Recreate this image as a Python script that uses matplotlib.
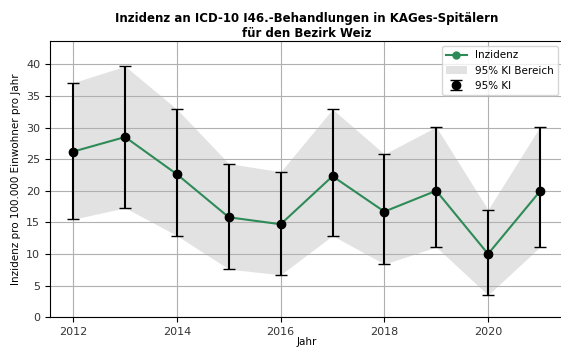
import matplotlib
matplotlib.use('Agg')
from matplotlib import pyplot as plt
import numpy as np

# incidence per 100.000 inhabitants, with 95% confidence limits
years = [2012, 2013, 2014, 2015, 2016, 2017, 2018, 2019, 2020, 2021]
inzidenz = [26.2, 28.5, 22.6, 15.8, 14.7, 22.3, 16.7, 20.0, 10.0, 19.9]
ki_unten = [15.5, 17.3, 12.9, 7.6, 6.7, 12.9, 8.4, 11.1, 3.5, 11.1]
ki_oben = [37.1, 39.7, 32.9, 24.3, 23.0, 32.9, 25.8, 30.1, 17.0, 30.1]

inz = np.array(inzidenz)
yerr = [inz - np.array(ki_unten), np.array(ki_oben) - inz]

fig = plt.figure(figsize=(5.61, 3.47), dpi=100)
ax = fig.add_axes([0.089, 0.086, 0.915, 0.796])

ax.plot(years, inzidenz, 'o-', color='#2e8b57', markersize=5, linewidth=1.5,
        label='Inzidenz')
ax.fill_between(years, ki_unten, ki_oben, color='#d3d3d3', alpha=0.65,
                linewidth=0, label='95% KI Bereich')
ax.errorbar(years, inzidenz, yerr=yerr, fmt='o', color='black', ecolor='black',
            elinewidth=1.5, capsize=4, markersize=6, label='95% KI')

ax.set_title('Inzidenz an ICD-10 I46.-Behandlungen in KAGes-Spitälern\nfür den Bezirk Weiz',
             fontsize=8.5, fontweight='bold', linespacing=1.25, pad=2.5)
ax.set_xlabel('Jahr', fontsize=7.5, labelpad=0)
ax.set_ylabel('Inzidenz pro 100.000 Einwohner pro Jahr', fontsize=7.5)
ax.tick_params(labelsize=8, labelcolor='#333333')
ax.set_xlim(2011.55, 2021.45)
ax.set_ylim(0, 43.7)
ax.set_xticks([2012, 2014, 2016, 2018, 2020])
ax.grid(True, color='#b0b0b0', linewidth=0.8)
ax.legend(loc='upper right', fontsize=7.5)

plt.savefig('out.png', format='png')
